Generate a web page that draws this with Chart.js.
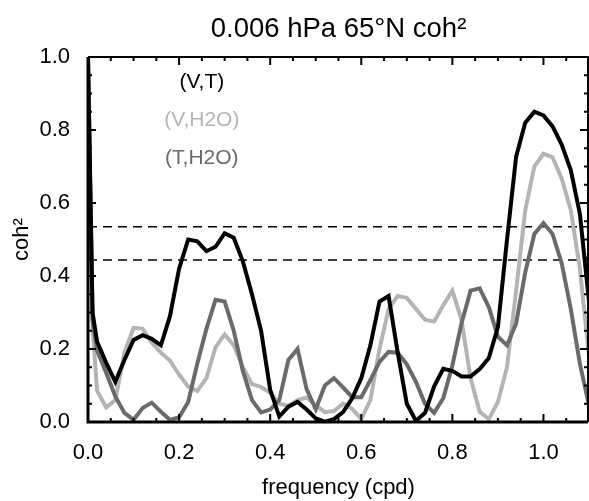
<!DOCTYPE html>
<html>
<head>
<meta charset="utf-8">
<script src="https://cdn.jsdelivr.net/npm/chart.js@4.4.0/dist/chart.umd.min.js"></script>
<style>
  html, body { margin: 0; padding: 0; background: #fff; }
  canvas { display: block; }
</style>
</head>
<body>
<canvas id="cohChart" width="589" height="501"></canvas>
<script>
// frequency (cpd)
const freq = [0, 0.01, 0.02, 0.04, 0.06, 0.08, 0.10, 0.12, 0.14, 0.16, 0.18, 0.20,
  0.22, 0.24, 0.26, 0.28, 0.30, 0.32, 0.34, 0.36, 0.38, 0.40, 0.42, 0.44, 0.46, 0.48, 0.50,
  0.52, 0.54, 0.56, 0.58, 0.60, 0.62, 0.64, 0.66, 0.68, 0.70, 0.72, 0.74, 0.76, 0.78, 0.80,
  0.82, 0.84, 0.86, 0.88, 0.90, 0.92, 0.94, 0.96, 0.98, 1.00, 1.02, 1.04, 1.06, 1.08, 1.10];

// coh^2 (V,T)
const cohVT = [1.0, 0.30, 0.22, 0.162, 0.11, 0.17, 0.225, 0.238, 0.228, 0.21, 0.29, 0.42,
  0.50, 0.495, 0.468, 0.48, 0.517, 0.505, 0.44, 0.35, 0.25, 0.088, 0.015, 0.042, 0.055, 0.034, 0.01,
  0.001, 0.008, 0.027, 0.065, 0.12, 0.21, 0.33, 0.345, 0.19, 0.05, 0.003, 0.025, 0.098, 0.146, 0.14,
  0.125, 0.125, 0.145, 0.175, 0.26, 0.50, 0.727, 0.82, 0.85, 0.84, 0.81, 0.76, 0.69, 0.57, 0.33];

// coh^2 (V,H2O)
const cohVH2O = [1.0, 0.26, 0.085, 0.04, 0.06, 0.19, 0.258, 0.256, 0.217, 0.19, 0.168, 0.13,
  0.097, 0.085, 0.12, 0.205, 0.24, 0.21, 0.15, 0.104, 0.096, 0.08, 0.05, 0.044, 0.06, 0.067, 0.046,
  0.027, 0.03, 0.05, 0.036, 0.008, 0.06, 0.20, 0.31, 0.345, 0.34, 0.31, 0.28, 0.275, 0.32, 0.36,
  0.28, 0.12, 0.028, 0.008, 0.055, 0.15, 0.36, 0.58, 0.70, 0.735, 0.725, 0.667, 0.58, 0.42, 0.18];

// coh^2 (T,H2O)
const cohTH2O = [1.0, 0.28, 0.195, 0.135, 0.07, 0.025, 0.006, 0.038, 0.053, 0.028, 0.006, 0.013,
  0.055, 0.16, 0.255, 0.335, 0.33, 0.25, 0.14, 0.06, 0.026, 0.034, 0.06, 0.17, 0.20, 0.09, 0.035,
  0.10, 0.12, 0.095, 0.068, 0.068, 0.115, 0.165, 0.192, 0.19, 0.158, 0.11, 0.05, 0.025, 0.065, 0.155,
  0.27, 0.36, 0.366, 0.315, 0.234, 0.21, 0.27, 0.41, 0.515, 0.545, 0.515, 0.435, 0.31, 0.16, 0.045];

// significance levels (dashed)
const sigLevels = [0.535, 0.444];

const xTicks = [0, 0.2, 0.4, 0.6, 0.8, 1.0];
const yTicks = [0, 0.2, 0.4, 0.6, 0.8, 1.0];
const seriesNames = ['(V,T)', '(V,H2O)', '(T,H2O)'];
const seriesColors = ['#000000', '#b4b4b4', '#6a6a6a'];

const FONT = '"Liberation Sans", Arial, Helvetica, sans-serif';

function toPoints(ys) {
  return freq.map((f, i) => ({ x: f, y: ys[i] }));
}

// inward ticks on all four sides + frame + series labels
const frameTicks = {
  id: 'frameTicks',
  afterDatasetsDraw(chart) {
    const { ctx, chartArea: a, scales: { x, y } } = chart;
    const right = a.right - 1;
    ctx.save();
    ctx.strokeStyle = '#000';
    ctx.lineWidth = 2;
    ctx.beginPath();
    ctx.moveTo(a.left, a.top);
    ctx.lineTo(right, a.top);
    ctx.lineTo(right, a.bottom);
    ctx.stroke();
    ctx.lineWidth = 3;
    ctx.beginPath();
    ctx.moveTo(a.left, a.top);
    ctx.lineTo(a.left, a.bottom);
    ctx.lineTo(right, a.bottom);
    ctx.stroke();

    ctx.lineWidth = 2;
    ctx.beginPath();
    for (let k = 0; k <= 22; k++) {
      const px = x.getPixelForValue(k * 0.05);
      const len = k % 4 === 0 ? 8 : 4;
      ctx.moveTo(px, a.bottom);
      ctx.lineTo(px, a.bottom - len);
      ctx.moveTo(px, a.top);
      ctx.lineTo(px, a.top + len);
    }
    for (let k = 0; k <= 20; k++) {
      const py = y.getPixelForValue(k * 0.05);
      const len = k % 4 === 0 ? 8 : 4;
      ctx.moveTo(a.left, py);
      ctx.lineTo(a.left + len, py);
      ctx.moveTo(right, py);
      ctx.lineTo(right - len, py);
    }
    ctx.stroke();

    ctx.font = '21px ' + FONT;
    ctx.textAlign = 'center';
    ctx.textBaseline = 'middle';
    const labelY = [0.93, 0.827, 0.723];
    seriesNames.forEach((name, i) => {
      ctx.fillStyle = seriesColors[i];
      ctx.fillText(name, x.getPixelForValue(0.25), y.getPixelForValue(labelY[i]));
    });
    ctx.restore();
  }
};

const lineStyle = { borderWidth: 4, pointRadius: 0, tension: 0, fill: false };

const datasets = [
  Object.assign({ label: seriesNames[0], data: toPoints(cohVT), borderColor: seriesColors[0] }, lineStyle),
  Object.assign({ label: seriesNames[2], data: toPoints(cohTH2O), borderColor: seriesColors[2] }, lineStyle),
  Object.assign({ label: seriesNames[1], data: toPoints(cohVH2O), borderColor: seriesColors[1] }, lineStyle)
];
sigLevels.forEach((lvl, i) => {
  datasets.push({
    label: 'sig' + i,
    data: [{ x: 0, y: lvl }, { x: 1.1, y: lvl }],
    borderColor: '#000',
    borderWidth: 1.5,
    borderDash: [9, 6],
    pointRadius: 0,
    fill: false
  });
});

new Chart(document.getElementById('cohChart').getContext('2d'), {
  type: 'line',
  data: { datasets: datasets },
  options: {
    responsive: false,
    animation: false,
    devicePixelRatio: 1,
    layout: { padding: 0 },
    plugins: {
      legend: { display: false },
      tooltip: { enabled: false },
      title: {
        display: true,
        text: '0.006 hPa 65°N coh²',
        fullSize: false,
        color: '#000',
        font: { family: FONT, size: 27.5, weight: 'normal' },
        padding: { top: 13, bottom: 11 }
      }
    },
    scales: {
      x: {
        type: 'linear',
        min: 0,
        max: 1.1,
        afterBuildTicks: s => { s.ticks = xTicks.map(v => ({ value: v })); },
        afterFit: s => { s.height = 79; },
        grid: { display: false, drawTicks: false },
        border: { display: false },
        ticks: {
          callback: v => v.toFixed(1),
          color: '#000',
          font: { family: FONT, size: 22 },
          padding: 18,
          maxRotation: 0,
          autoSkip: false
        },
        title: {
          display: true,
          text: 'frequency (cpd)',
          color: '#000',
          font: { family: FONT, size: 22 },
          padding: { top: 0, bottom: 0 }
        }
      },
      y: {
        type: 'linear',
        min: 0,
        max: 1,
        afterBuildTicks: s => { s.ticks = yTicks.map(v => ({ value: v })); },
        afterFit: s => { s.width = 88; },
        grid: { display: false, drawTicks: false },
        border: { display: false },
        ticks: {
          callback: v => v.toFixed(1),
          color: '#000',
          font: { family: FONT, size: 22 },
          padding: 18
        },
        title: {
          display: true,
          text: 'coh²',
          color: '#000',
          font: { family: FONT, size: 22 },
          padding: { top: 9, bottom: 0 }
        }
      }
    }
  },
  plugins: [frameTicks]
});
</script>
</body>
</html>
